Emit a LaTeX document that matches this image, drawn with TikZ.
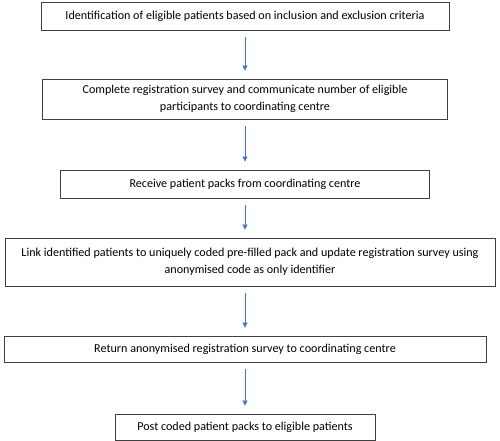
\documentclass[tikz,border=0pt]{standalone}
\usepackage{fontspec}
\setmainfont{Carlito}
\usepackage{tikz}
\usetikzlibrary{arrows.meta}
\definecolor{arrowblue}{RGB}{68,114,196}

\begin{document}
\begin{tikzpicture}[node distance={83pt}, x=1pt, y=1pt,
    main/.style = {draw=black!75, line width=0.8pt, rectangle, align=center, inner sep=0pt, font=\fontsize{12.1}{16.5}\selectfont},
    flow/.style = {arrowblue, line width=0.7pt, shorten <=7pt, shorten >=8pt, -{Triangle[width=5pt,length=5pt]}}]
    \useasboundingbox (0,0) rectangle (500,-441);
    \node[main, minimum width=408pt, minimum height=28pt] (ident) at (245,-16) {Identification of eligible patients based on inclusion and exclusion criteria};
    \node[main, minimum width=405pt, minimum height=40pt] (regist) [below of=ident] {Complete registration survey and communicate number of eligible\\participants to coordinating centre};
    \node[main, minimum width=369pt, minimum height=28pt] (receive) [below of=regist, node distance=85pt] {Receive patient packs from coordinating centre};
    \node[main, minimum width=490pt, minimum height=48pt] (link) [below of=receive, node distance=78pt, xshift=5pt] {Link identified patients to uniquely coded pre-filled pack and update registration survey using\\anonymised code as only identifier};
    \node[main, minimum width=482pt, minimum height=26pt] (return) [below of=link, node distance=87pt, xshift=-5pt] {Return anonymised registration survey to coordinating centre};
    \node[main, minimum width=260pt, minimum height=26pt] (post) [below of=return, node distance=78pt] {Post coded patient packs to eligible patients};
    \draw[flow] (ident.south) -- (ident.south |- regist.north);
    \draw[flow] (regist.south) -- (regist.south |- receive.north);
    \draw[flow] (receive.south) -- (receive.south |- link.north);
    \draw[flow] (return.north |- link.south) -- (return.north);
    \draw[flow] (return.south) -- (post.north);
\end{tikzpicture}
\end{document}
